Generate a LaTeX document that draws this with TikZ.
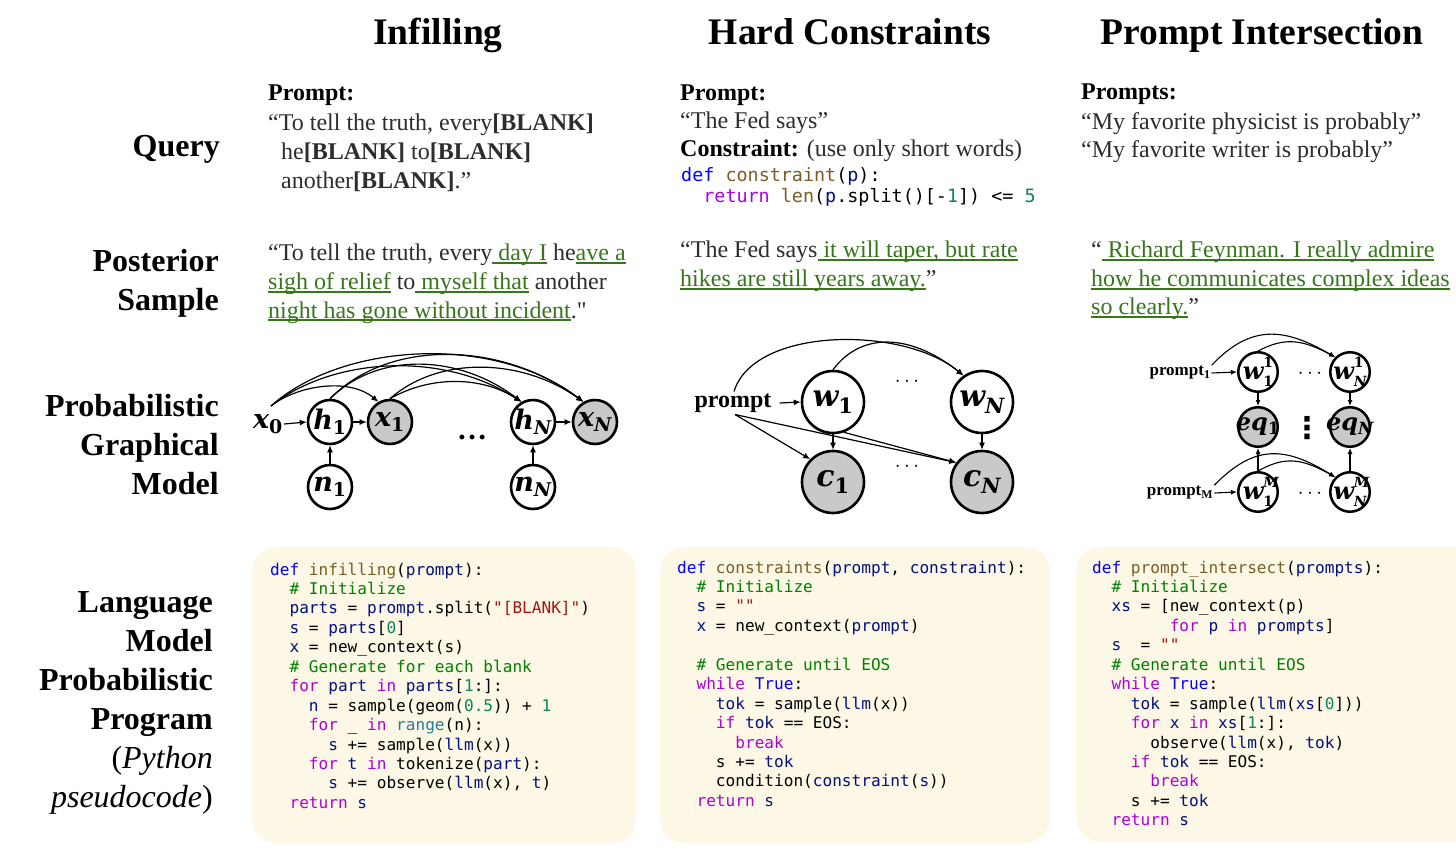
\documentclass[tikz,border=0pt]{standalone}
\usepackage{fontspec}
\setmainfont{Liberation Serif}
\setmonofont{DejaVu Sans Mono}
\newfontfamily\gfont{DejaVu Serif}
\newfontfamily\symfont{DejaVu Sans}
\usetikzlibrary{arrows.meta}
\definecolor{cream}{RGB}{253,247,229}
\definecolor{sgreen}{RGB}{56,118,29}
\definecolor{txtgray}{RGB}{45,45,45}
\definecolor{kDf}{HTML}{0000FF}
\definecolor{kFn}{HTML}{795E26}
\definecolor{kVr}{HTML}{001080}
\definecolor{kCm}{HTML}{008000}
\definecolor{kSt}{HTML}{A31515}
\definecolor{kNm}{HTML}{098658}
\definecolor{kKw}{HTML}{AF00DB}
\definecolor{kTy}{HTML}{267F99}
\newcommand{\cDf}[1]{\textcolor{kDf}{#1}}
\newcommand{\cFn}[1]{\textcolor{kFn}{#1}}
\newcommand{\cVr}[1]{\textcolor{kVr}{#1}}
\newcommand{\cCm}[1]{\textcolor{kCm}{#1}}
\newcommand{\cSt}[1]{\textcolor{kSt}{#1}}
\newcommand{\cNm}[1]{\textcolor{kNm}{#1}}
\newcommand{\cKw}[1]{\textcolor{kKw}{#1}}
\newcommand{\cTy}[1]{\textcolor{kTy}{#1}}
\newcommand{\gul}[1]{{\color{sgreen}\setbox0=\hbox{#1}\rlap{\rule[-2.6pt]{\wd0}{1.1pt}}\box0}}
% graph variable: letter(s) #1 with subscript #2
\newcommand{\gv}[2]{{\gfont\bfseries\itshape #1\textsubscript{#2}}}
% graph variable with superscript #3 and subscript #2, stacked
\newcommand{\gvv}[3]{{\gfont\bfseries\itshape #1\rlap{\raisebox{0.5em}{\fontsize{14}{14}\selectfont #3}}\raisebox{-0.3em}{\fontsize{14}{14}\selectfont #2}}}
\begin{document}
\begin{tikzpicture}[x=1pt,y=-1pt,
  ttl/.style={font=\fontsize{37.5}{40}\selectfont\bfseries, anchor=base, inner sep=0},
  rowlab/.style={font=\fontsize{32}{39}\selectfont\bfseries, anchor=base east, inner sep=0},
  body/.style={font=\fontsize{24}{29}\selectfont, anchor=base west, inner sep=0, text=txtgray},
  code/.style={font=\fontsize{16.1}{19.45}\selectfont\ttfamily, anchor=base west, inner sep=0, text=black},
  qcode/.style={font=\fontsize{18.4}{21}\selectfont\ttfamily, anchor=base west, inner sep=0, text=black},
  gc1/.style={circle, draw=black, line width=2.6pt, fill=white, inner sep=0, minimum size=44pt,
     label={[font=\fontsize{27}{29}\selectfont, inner sep=0]center:#1}},
  gc2/.style={circle, draw=black, line width=2.6pt, fill=white, inner sep=0, minimum size=62pt,
     label={[font=\fontsize{30}{32}\selectfont, inner sep=0]center:#1}},
  gc3/.style={circle, draw=black, line width=2.5pt, fill=white, inner sep=0, minimum size=39.5pt,
     label={[font=\fontsize{24}{26}\selectfont, inner sep=0]center:#1}},
  shaded/.style={fill=black!21},
  arr/.style={-{Latex[length=7pt,width=6pt]}, line width=1.2pt},
  arrs/.style={-{Latex[length=6pt,width=5pt]}, line width=1.1pt},
  box/.style={fill=cream, rounded corners=25pt}
]
\useasboundingbox (0,0) rectangle (1456,850);
\fill[white] (0,0) rectangle (1456,850);

% titles
\node[ttl] (tInf) at (438,45) {Infilling};
\node[ttl] (tHard) at (850,45) {Hard Constraints};
\node[ttl] (tInt) at (1262,45) {Prompt Intersection};

% row labels
\node[rowlab] (rQ) at (220,157) {Query};
\node[rowlab] (rP1) at (219,272) {Posterior};
\node[rowlab] (rP2) at (219,311) {Sample};
\node[rowlab] (rG1) at (219,416) {Probabilistic};
\node[rowlab] (rG2) at (219,455) {Graphical};
\node[rowlab] (rG3) at (219,494) {Model};
\node[rowlab] (rL1) at (213,612) {Language};
\node[rowlab] (rL2) at (213,651) {Model};
\node[rowlab] (rL3) at (213,690) {Probabilistic};
\node[rowlab] (rL4) at (213,729) {Program};
\node[rowlab] (rL5) at (213,768) {\mdseries(\textit{Python}};
\node[rowlab] (rL6) at (213,807) {\mdseries\textit{pseudocode})};

% query row
\node[body, text=black] (q1a) at (268,101) {\textbf{Prompt:}};
\node[body] (q1b) at (268,131) {“To tell the truth, every\textbf{[BLANK]}};
\node[body] (q1c) at (281,160) {he\textbf{[BLANK]} to\textbf{[BLANK]}};
\node[body] (q1d) at (281,189) {another\textbf{[BLANK]}.”};

\node[body, text=black] (q2a) at (680,101) {\textbf{Prompt:}};
\node[body] (q2b) at (680,129) {“The Fed says”};
\node[body] (q2c) at (680,157) {\textcolor{black}{\textbf{Constraint:}} (use only short words)};
\node[qcode] (q2d) at (681,182) {\cDf{def} \cFn{constraint}(\cVr{p}):};
\node[qcode] (q2e) at (681,203) {\phantom{xx}\cKw{return} \cFn{len}(\cVr{p}.split()[-\cNm{1}]) <= \cNm{5}};

\node[body, text=black] (q3a) at (1081,100) {\textbf{Prompts:}};
\node[body] (q3b) at (1081,130) {“My favorite physicist is probably”};
\node[body] (q3c) at (1081,158) {“My favorite writer is probably”};

% posterior row
\node[body] (p1a) at (268,261) {“To tell the truth, every\gul{ day I} he\gul{ave a}};
\node[body] (p1b) at (268,290) {\gul{sigh of relief} to\gul{ myself that} another};
\node[body] (p1c) at (268,318) {\gul{night has gone without incident}.{\addfontfeatures{Ligatures=TeXOff}"}};

\node[body] (p2a) at (680,258) {“The Fed says\gul{ it will taper, but rate}};
\node[body] (p2b) at (680,287) {\gul{hikes are still years away.}”};

\node[body] (p3a) at (1091,258) {“\gul{ Richard Feynman. I really admire}};
\node[body] (p3b) at (1091,287) {\gul{how he communicates complex ideas}};
\node[body] (p3c) at (1091,315) {\gul{so clearly.}”};

% ---------- graph 1: infilling
\node[font=\fontsize{27}{29}\selectfont, inner sep=1pt] (x0) at (268,424) {\gv{x}{\upshape 0}};
\node[gc1={\gv{h}{\upshape 1}}] (h1) at (330,422) {};
\node[gc1={\gv{x}{\upshape 1}}, shaded] (x1) at (390,422) {};
\node[gc1={\gv{h}{N}}] (hN) at (533,422) {};
\node[gc1={\gv{x}{N}}, shaded] (xN) at (595,422) {};
\node[gc1={\gv{n}{\upshape 1}}] (n1) at (330,487) {};
\node[gc1={\gv{n}{N}}] (nN) at (533,487) {};
\node[font=\fontsize{30}{32}\selectfont\bfseries, anchor=base, inner sep=0] (d1) at (472,439) {…};
\draw[arr] (x0.east) -- (h1.west);
\draw[arr] (h1.east) -- (x1.west);
\draw[arr] (hN.east) -- (xN.west);
\draw[arr] (n1.north) -- (h1.south);
\draw[arr] (nN.north) -- (hN.south);
\draw[arr] ([xshift=3pt,yshift=18pt]x0.center) .. controls +(25,-20) and +(-30,-25) .. (x1.120);
\draw[arr] ([xshift=3pt,yshift=18pt]x0.center) .. controls +(60,-48) and +(-80,-52) .. (hN.120);
\draw[arr] ([xshift=3pt,yshift=18pt]x0.center) .. controls +(70,-63) and +(-90,-69) .. (xN.120);
\draw[arr] (h1.north) .. controls +(50,-49) and +(-60,-46) .. (hN.120);
\draw[arr] (h1.north) .. controls +(60,-61) and +(-80,-60) .. (xN.120);
\draw[arr] (x1.north) .. controls +(40,-23) and +(-40,-26) .. (hN.120);
\draw[arr] (x1.north) .. controls +(50,-44) and +(-60,-43) .. (xN.120);

% ---------- graph 2: hard constraints
\node[font=\fontsize{24}{26}\selectfont\bfseries, inner sep=2pt] (pr) at (733,403) {prompt};
\node[gc2={\gv{w}{\upshape 1}}] (w1) at (833,402) {};
\node[gc2={\gv{w}{N}}] (wN) at (982,402) {};
\node[gc2={\gv{c}{\upshape 1}}, shaded] (c1) at (833,482) {};
\node[gc2={\gv{c}{N}}, shaded] (cN) at (982,482) {};
\node[font=\fontsize{22}{24}\selectfont] (d2a) at (907,382) {$\cdots$};
\node[font=\fontsize{22}{24}\selectfont] (d2b) at (907,467) {$\cdots$};
\draw[arr] ([xshift=6pt]pr.east) -- (w1.west);
\draw[arr] (w1.south) -- (c1.north);
\draw[arr] (wN.south) -- (cN.north);
\draw[arr] ([xshift=2pt]pr.south) -- (c1.135);
\draw[arr] ([xshift=2pt]pr.south) -- (cN.143);
\draw[arr] (w1.-70) -- (cN.143);
\draw[arr] ([xshift=1pt]pr.north) .. controls +(20,-65) and +(-60,-50) .. (wN.125);
\draw[arr] (w1.north) .. controls +(30,-40) and +(-50,-40) .. (wN.125);

% ---------- graph 3: prompt intersection
\node[font=\fontsize{17}{19}\selectfont\bfseries, inner sep=1pt] (pr1) at (1180,373) {prompt\textsubscript{1}};
\node[font=\fontsize{17}{19}\selectfont\bfseries, inner sep=1pt] (prM) at (1180,493) {prompt\textsubscript{M}};
\node[gc3={\gvv{w}{\upshape 1}{\upshape 1}}] (w11) at (1258,372) {};
\node[gc3={\gvv{w}{N}{\upshape 1}}] (w1N) at (1350,372) {};
\node[gc3={\gv{eq}{\upshape 1}}, shaded] (eq1) at (1258,427) {};
\node[gc3={\gv{eq}{N}}, shaded] (eqN) at (1350,427) {};
\node[gc3={\gvv{w}{\upshape 1}{M}}] (wM1) at (1258,492) {};
\node[gc3={\gvv{w}{N}{M}}] (wMN) at (1350,492) {};
\node[font=\fontsize{22}{24}\selectfont\bfseries] (d3a) at (1310,374) {$\cdots$};
\node[font=\fontsize{30}{32}\selectfont\symfont\bfseries, inner sep=0] (d3b) at (1307,428) {⋮};
\node[font=\fontsize{22}{24}\selectfont\bfseries] (d3c) at (1310,494) {$\cdots$};
\draw[arrs] (pr1.east) -- (w11.west);
\draw[arrs] (prM.east) -- (wM1.west);
\draw[arrs] (w11.south) -- (eq1.north);
\draw[arrs] (w1N.south) -- (eqN.north);
\draw[arrs] (wM1.north) -- (eq1.south);
\draw[arrs] (wMN.north) -- (eqN.south);
\draw[arrs] (pr1.north east) .. controls +(40,-42) and +(-50,-29) .. (w1N.135);
\draw[arrs] (w11.north) .. controls +(25,-13) and +(-35,-19) .. (w1N.135);
\draw[arrs] (prM.north east) .. controls +(40,-41) and +(-50,-31) .. (wMN.135);
\draw[arrs] (wM1.north) .. controls +(25,-14) and +(-35,-20) .. (wMN.135);

% ---------- code boxes
\fill[box] (252,547) rectangle (636,843);
\fill[box] (660,547) rectangle (1050,843);
\fill[box] (1076,547) rectangle (1490,842);

\node[code] (code1) at (270,575) {\parbox[t]{360pt}{%
\cDf{def} \cFn{infilling}(\cVr{prompt}):\\
\phantom{xx}\cCm{\# Initialize}\\
\phantom{xx}\cVr{parts} = \cVr{prompt}.split(\cSt{"[BLANK]"})\\
\phantom{xx}\cVr{s} = \cVr{parts}[\cNm{0}]\\
\phantom{xx}\cVr{x} = new\_context(s)\\
\phantom{xx}\cCm{\# Generate for each blank}\\
\phantom{xx}\cKw{for} \cVr{part} \cKw{in} \cVr{parts}[\cNm{1}:]:\\
\phantom{xxxx}\cVr{n} = sample(geom(\cNm{0.5})) + \cNm{1}\\
\phantom{xxxx}\cKw{for} \_ \cKw{in} \cTy{range}(n):\\
\phantom{xxxxxx}\cVr{s} += sample(\cVr{llm}(x))\\
\phantom{xxxx}\cKw{for} \cVr{t} \cKw{in} tokenize(\cVr{part}):\\
\phantom{xxxxxx}\cVr{s} += observe(\cVr{llm}(x), \cVr{t})\\
\phantom{xx}\cKw{return} \cVr{s}}};

\node[code] (code2) at (677,573) {\parbox[t]{370pt}{%
\cDf{def} \cFn{constraints}(\cVr{prompt}, \cVr{constraint}):\\
\phantom{xx}\cCm{\# Initialize}\\
\phantom{xx}\cVr{s} = \cSt{""}\\
\phantom{xx}\cVr{x} = new\_context(\cVr{prompt})\\
\mbox{}\\
\phantom{xx}\cCm{\# Generate until EOS}\\
\phantom{xx}\cKw{while} \cDf{True}:\\
\phantom{xxxx}\cVr{tok} = sample(\cVr{llm}(x))\\
\phantom{xxxx}\cKw{if} \cVr{tok} == EOS:\\
\phantom{xxxxxx}\cKw{break}\\
\phantom{xxxx}s += \cVr{tok}\\
\phantom{xxxx}condition(\cVr{constraint}(\cVr{s}))\\
\phantom{xx}\cKw{return} \cVr{s}}};

\node[code] (code3) at (1092,573) {\parbox[t]{360pt}{%
\cDf{def} \cFn{prompt\_intersect}(\cVr{prompts}):\\
\phantom{xx}\cCm{\# Initialize}\\
\phantom{xx}\cVr{xs} = [new\_context(p)\\
\phantom{xxxxxxxx}\cKw{for} \cVr{p} \cKw{in} \cVr{prompts}]\\
\phantom{xx}\cVr{s}\phantom{xx}= \cSt{""}\\
\phantom{xx}\cCm{\# Generate until EOS}\\
\phantom{xx}\cKw{while} \cDf{True}:\\
\phantom{xxxx}\cVr{tok} = sample(\cVr{llm}(\cVr{xs}[\cNm{0}]))\\
\phantom{xxxx}\cKw{for} \cVr{x} \cKw{in} \cVr{xs}[\cNm{1}:]:\\
\phantom{xxxxxx}observe(\cVr{llm}(x), \cVr{tok})\\
\phantom{xxxx}\cKw{if} \cVr{tok} == EOS:\\
\phantom{xxxxxx}\cKw{break}\\
\phantom{xxxx}s += \cVr{tok}\\
\phantom{xx}\cKw{return} \cVr{s}}};
\end{tikzpicture}
\end{document}
